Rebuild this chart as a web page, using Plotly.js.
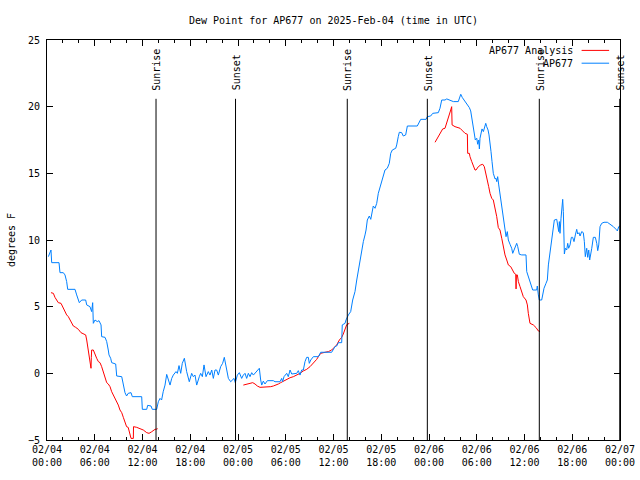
<!DOCTYPE html>
<html>
<head>
<meta charset="utf-8">
<script src="https://cdn.plot.ly/plotly-3.0.1.min.js"></script>
<style>html,body{margin:0;padding:0;background:#fff;}#chart{width:640px;height:480px;}</style>
</head>
<body>
<div id="chart"></div>
<script>
// Time is given in hours since 2025-02-04 00:00 UTC
const obsHours = [0.17,0.5,0.59,1.51,1.63,2.05,2.26,2.47,2.6,3.52,3.73,4.06,4.36,4.86,4.99,5.4,5.61,5.74,5.82,6.03,6.32,6.53,6.79,6.87,7.29,7.5,7.7,7.79,8.0,8.13,8.63,8.76,9.39,9.59,9.8,10.0,10.2,10.56,10.72,11.9,11.98,12.53,12.65,13.07,13.23,13.78,13.99,14.2,14.4,14.6,14.83,15.04,15.25,15.46,15.67,15.87,16.21,16.38,16.59,16.8,17.0,17.26,17.55,17.88,18.18,18.38,18.6,18.81,19.14,19.31,19.52,19.73,19.98,20.27,20.48,20.7,20.9,21.11,21.32,21.53,21.82,22.07,22.28,22.58,22.79,23.08,23.33,23.5,23.66,23.92,24.17,24.46,24.67,24.88,25.09,25.3,25.51,25.72,25.93,26.26,26.56,26.68,26.85,26.98,27.18,27.39,27.69,28.44,28.65,29.28,29.49,29.6,29.78,30.12,30.32,30.54,30.75,31.38,31.58,31.79,32.0,32.21,32.42,32.63,32.84,32.96,33.14,33.47,34.1,34.39,35.77,36.19,36.4,36.61,37.03,37.1,37.45,37.57,37.87,38.16,38.41,38.7,38.92,39.12,39.33,39.54,39.75,39.96,40.09,40.25,40.5,40.68,40.8,41.0,41.22,41.43,41.63,41.84,42.06,42.26,42.47,42.76,43.01,43.19,43.39,43.82,43.94,44.14,44.27,44.57,44.77,45.07,45.28,46.53,46.78,46.96,47.63,47.79,48.21,48.47,49.17,49.38,49.6,50.01,50.23,50.64,51.06,51.68,51.81,51.99,52.19,52.4,52.65,52.82,53.07,53.24,53.37,53.5,53.66,53.82,54.0,54.12,54.25,54.33,54.41,54.54,54.66,54.83,55.0,55.13,55.25,55.42,55.54,55.67,55.79,55.92,56.08,56.3,56.42,56.51,56.63,56.76,56.92,57.05,57.17,57.34,57.46,57.59,57.68,57.84,57.97,58.18,58.39,58.52,58.72,58.85,59.02,59.15,59.35,59.65,60.19,60.28,60.48,60.69,60.91,61.03,61.53,61.61,61.74,61.86,62.16,62.29,62.45,62.7,62.87,63.0,63.21,63.42,63.62,63.75,64.05,64.17,64.3,64.38,64.46,64.59,64.72,64.8,64.88,65.01,65.13,65.3,65.43,65.55,65.72,65.89,66.05,66.22,66.39,66.56,66.68,66.85,66.98,67.19,67.39,67.52,67.64,67.82,67.94,68.07,68.19,68.32,68.45,68.65,68.9,69.08,69.2,69.33,69.49,69.7,69.99,70.41,70.75,71.17,71.5,71.67,71.84,72.0];
const obsDewF = [8.75,9.25,8.3,8.3,7.55,7.55,7.38,6.88,6.3,6.3,5.88,5.3,5.5,5.5,5.13,5.0,4.63,5.3,3.75,4.0,3.88,3.95,3.63,2.75,2.7,2.38,1.75,1.38,1.13,0.8,0.7,-0.2,-0.25,-1.0,-1.45,-1.7,-1.5,-1.45,-1.75,-1.75,-2.7,-2.7,-2.4,-2.45,-2.7,-2.7,-2.13,-1.88,-2.0,-1.38,-0.88,-0.08,-0.5,-0.88,-0.38,-0.13,0.13,0.0,0.58,0.0,0.75,1.13,0.13,-0.63,0.0,-0.25,-0.13,-0.88,-0.25,0.0,-0.25,0.63,-0.25,0.13,-0.13,0.25,-0.38,0.25,0.25,-0.13,0.5,0.75,1.2,0.25,-0.38,-0.63,-0.5,-0.38,-0.7,-0.13,0.05,-0.38,-0.13,0.0,-0.38,0.0,-0.25,0.05,-0.13,0.13,0.3,0.38,-0.5,-0.88,-0.58,-0.8,-0.55,-0.55,-0.63,-0.63,-0.38,-0.63,-0.25,0.0,-0.25,0.25,-0.05,0.0,0.2,-0.13,0.25,0.25,0.88,1.2,1.2,0.75,1.0,1.25,1.25,1.58,1.58,2.0,2.05,2.3,2.3,3.63,3.75,4.0,4.38,4.63,5.5,6.13,7.0,7.75,8.5,9.13,9.88,10.38,10.75,11.5,11.8,11.55,12.0,12.55,12.38,12.75,13.5,13.95,14.25,14.7,15.25,15.38,15.75,16.5,16.75,16.88,17.13,17.75,18.08,18.05,17.8,17.88,18.55,18.55,18.8,19.05,19.05,19.25,19.3,19.5,19.55,19.88,20.5,20.5,20.58,20.5,20.38,20.38,20.68,20.93,20.68,20.5,20.33,20.13,19.93,19.68,19.13,18.5,18.0,17.5,17.63,17.18,17.5,16.83,17.63,18.13,18.33,18.13,18.5,18.75,18.5,18.25,17.88,17.38,16.63,15.88,15.0,14.58,14.63,14.38,14.75,14.13,13.38,12.88,12.25,11.63,11.13,10.5,10.25,10.63,10.0,9.68,9.38,9.0,9.25,9.5,9.75,9.5,8.93,8.88,8.88,7.63,7.25,6.88,6.5,6.25,6.25,6.55,5.88,5.5,5.5,5.88,6.38,6.75,7.0,8.13,9.0,9.88,10.75,11.5,11.55,11.0,10.63,11.38,10.5,11.63,12.7,13.05,12.13,8.95,9.38,9.25,9.75,9.38,9.63,10.2,10.2,9.88,10.38,10.8,10.45,10.55,10.3,10.63,10.55,9.88,8.75,9.38,8.7,9.25,8.5,8.88,9.38,10.2,10.2,9.75,9.2,9.63,11.0,11.25,11.33,11.33,11.2,11.0,10.8,10.68,11.0,11.05];

// Analysis series (null = gap)
const anaHours = [0.5,0.8,1.0,1.42,1.76,2.05,2.26,2.47,2.68,3.02,3.31,3.6,3.94,4.27,4.57,4.86,4.99,5.11,5.28,5.4,5.49,5.53,5.57,5.61,5.82,6.03,6.24,6.45,6.66,6.87,7.08,7.29,7.5,7.7,7.92,8.13,8.34,8.54,8.76,8.96,9.17,9.39,9.59,9.8,10.0,10.2,10.43,10.56,10.85,10.87,11.27,11.69,12.1,12.53,12.82,13.16,13.57,13.78,13.91,
  19.0,
  24.67,25.09,25.51,25.85,26.14,26.43,26.77,27.18,27.81,28.11,28.44,28.78,29.07,29.36,29.7,30.12,30.54,30.96,31.38,31.79,32.21,32.63,33.05,33.47,33.89,34.1,34.39,34.94,35.36,35.77,36.07,36.4,36.74,37.03,37.23,37.45,37.66,37.99,
  43.0,
  48.76,49.05,49.38,49.72,50.01,50.23,50.55,50.73,50.85,50.9,51.27,51.68,51.9,52.23,52.53,52.82,52.86,53.07,53.15,53.37,53.57,53.78,53.91,54.2,54.5,54.75,54.95,55.13,55.33,55.5,55.67,55.88,56.08,56.3,56.51,56.71,56.92,57.14,57.34,57.55,57.77,57.97,58.27,58.52,58.72,58.9,58.94,58.98,59.1,59.23,59.44,59.65,59.85,60.19,60.36,60.48,60.69,61.11,61.45,61.74,61.95];
const anaDewF = [6.05,6.0,5.7,5.3,5.25,4.88,4.63,4.38,4.25,3.88,3.55,3.45,3.3,3.05,2.95,2.88,2.5,2.0,1.38,0.88,0.7,0.38,1.2,1.75,1.75,1.38,1.13,0.88,0.8,0.5,0.13,-0.25,-0.7,-0.8,-1.0,-1.38,-1.63,-1.95,-2.2,-2.38,-2.75,-2.95,-3.3,-3.63,-4.0,-4.05,-4.5,-4.88,-4.88,-4.0,-4.05,-4.13,-4.25,-4.45,-4.5,-4.38,-4.2,-4.18,-4.15,
  null,
  -0.88,-0.83,-0.75,-0.7,-0.8,-0.95,-1.05,-1.05,-1.05,-1.0,-0.95,-0.88,-0.8,-0.7,-0.58,-0.45,-0.33,-0.25,-0.13,0.0,0.18,0.3,0.5,0.75,1.05,1.25,1.5,1.58,1.63,1.75,1.95,2.13,2.5,2.7,2.95,3.4,3.65,3.75,
  null,
  17.33,17.63,18.0,18.33,18.38,18.75,19.38,19.75,20.0,18.63,18.5,18.43,18.38,18.18,18.0,17.93,16.5,16.5,16.25,15.88,15.5,15.25,15.25,15.5,15.63,15.68,15.5,15.08,14.5,14.0,13.5,13.13,13.0,12.38,11.75,10.93,10.75,10.13,9.38,8.88,8.5,8.13,8.0,7.75,7.5,7.43,6.33,7.38,7.38,6.88,6.5,6.13,5.75,5.5,5.13,4.5,3.75,3.63,3.43,3.18,3.13];

const seriesNames = ['AP677 Analysis', 'AP677'];
const seriesColors = ['#ff0000', '#0080ff'];

const eventHours = [13.70, 23.69, 37.73, 47.79, 61.86, 71.97];
const eventLabels = ['Sunrise', 'Sunset', 'Sunrise', 'Sunset', 'Sunrise', 'Sunset'];

const tickHours = [0, 6, 12, 18, 24, 30, 36, 42, 48, 54, 60, 66, 72];
const tickLabels = ['02/04<br>00:00','02/04<br>06:00','02/04<br>12:00','02/04<br>18:00',
  '02/05<br>00:00','02/05<br>06:00','02/05<br>12:00','02/05<br>18:00',
  '02/06<br>00:00','02/06<br>06:00','02/06<br>12:00','02/06<br>18:00','02/07<br>00:00'];

const FONT = 'DejaVu Sans Mono, monospace';

const traces = [
  {x: anaHours, y: anaDewF, name: seriesNames[0], type: 'scatter', mode: 'lines',
   line: {color: seriesColors[0], width: 1}, connectgaps: false, showlegend: false},
  {x: obsHours, y: obsDewF, name: seriesNames[1], type: 'scatter', mode: 'lines',
   line: {color: seriesColors[1], width: 1}, showlegend: false}
];

const shapes = eventHours.map(h => ({
  type: 'line', xref: 'x', yref: 'paper', x0: h, x1: h, y0: 0, y1: 0.853,
  line: {color: '#000', width: 1}
}));
const annotations = eventHours.map((h, i) => ({
  x: h, xref: 'x', y: 0.868, yref: 'paper', text: eventLabels[i], showarrow: false,
  textangle: -90, xanchor: 'center', yanchor: 'bottom', xshift: 1,
  font: {family: FONT, size: 10, color: '#000'}
}));
// manual legend (text then line sample, right aligned as in the original)
seriesNames.forEach((n, i) => {
  const yp = i === 0 ? 0.974 : 0.942;
  annotations.push({x: 0.921, xref: 'paper', y: yp, yref: 'paper', text: n, showarrow: false,
    xanchor: 'right', yanchor: 'middle', font: {family: FONT, size: 10, color: '#000'}});
  shapes.push({type: 'line', xref: 'paper', yref: 'paper', x0: 0.933, x1: 0.981, y0: yp, y1: yp,
    line: {color: seriesColors[i], width: 1}});
});

const axisCommon = {
  showline: true, linecolor: '#000', linewidth: 1, mirror: 'ticks',
  ticks: 'inside', ticklen: 6, tickcolor: '#000', tickwidth: 1,
  showgrid: false, zeroline: false,
  tickfont: {family: FONT, size: 10, color: '#000'}
};

const layout = {
  width: 640, height: 480,
  margin: {l: 47, r: 20, t: 40, b: 40, pad: 0},
  paper_bgcolor: '#fff', plot_bgcolor: '#fff',
  font: {family: FONT, size: 10, color: '#000'},
  title: {text: 'Dew Point for AP677 on 2025-Feb-04 (time in UTC)', x: 0.5, xref: 'paper',
    xanchor: 'center', y: 1 - 20 / 480, yref: 'container', yanchor: 'middle',
    font: {family: FONT, size: 10, color: '#000'}},
  xaxis: Object.assign({}, axisCommon, {
    range: [0, 72], tickmode: 'array', tickvals: tickHours, ticktext: tickLabels,
    minor: {tick0: 0, dtick: 2, ticks: 'inside', ticklen: 3, tickcolor: '#000', showgrid: false}
  }),
  yaxis: Object.assign({}, axisCommon, {
    range: [-5, 25], tickmode: 'linear', tick0: -5, dtick: 5, ticklabelstandoff: 4,
    title: {text: 'degrees F', standoff: 10, font: {family: FONT, size: 10, color: '#000'}}
  }),
  showlegend: false,
  shapes: shapes,
  annotations: annotations
};

Plotly.newPlot('chart', traces, layout, {staticPlot: true, displayModeBar: false});
</script>
</body>
</html>
